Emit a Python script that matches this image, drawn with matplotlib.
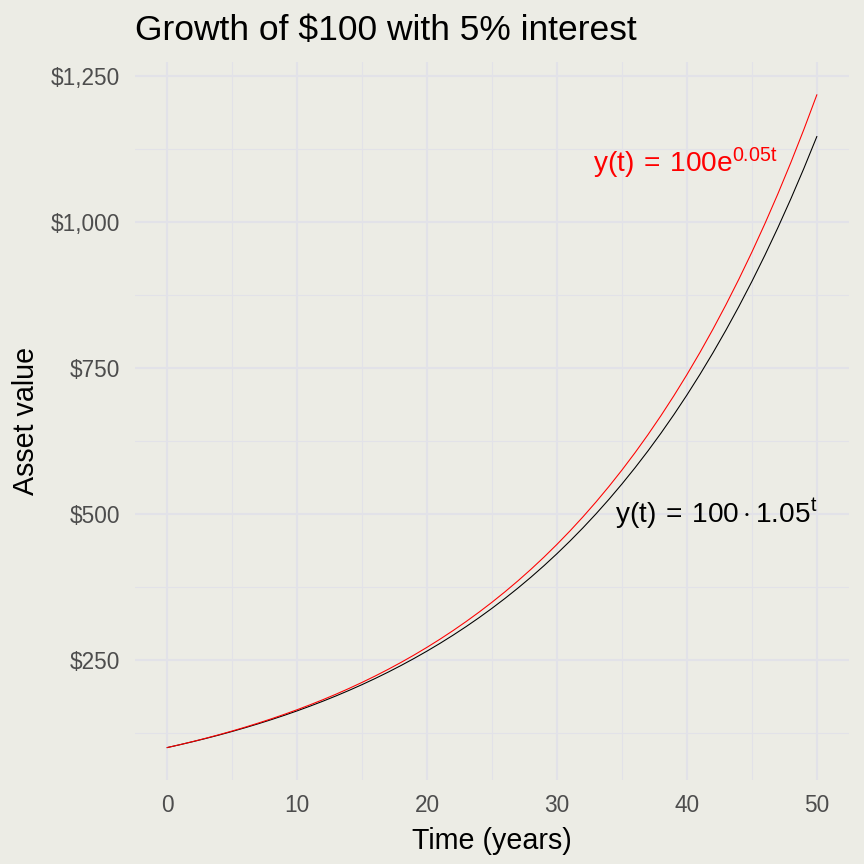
import matplotlib
matplotlib.use("Agg")
import matplotlib.pyplot as plt
from matplotlib.ticker import MultipleLocator, FuncFormatter

plt.rcParams['font.family'] = ['Liberation Sans', 'DejaVu Sans']
plt.rcParams['mathtext.fontset'] = 'custom'
plt.rcParams['mathtext.rm'] = 'Liberation Sans'
plt.rcParams['mathtext.it'] = 'Liberation Sans'
plt.rcParams['mathtext.bf'] = 'Liberation Sans:bold'

years = list(range(0, 51))
discrete_value = [
    100.00, 105.00, 110.25, 115.76, 121.55, 127.63, 134.01, 140.71, 147.75, 155.13,
    162.89, 171.03, 179.59, 188.56, 197.99, 207.89, 218.29, 229.20, 240.66, 252.70,
    265.33, 278.60, 292.53, 307.15, 322.51, 338.64, 355.57, 373.35, 392.01, 411.61,
    432.19, 453.80, 476.49, 500.32, 525.33, 551.60, 579.18, 608.14, 638.55, 670.48,
    704.00, 739.20, 776.16, 814.97, 855.72, 898.50, 943.43, 990.60, 1040.13, 1092.14,
    1146.74]
continuous_value = [
    100.00, 105.13, 110.52, 116.18, 122.14, 128.40, 134.99, 141.91, 149.18, 156.83,
    164.87, 173.33, 182.21, 191.55, 201.38, 211.70, 222.55, 233.96, 245.96, 258.57,
    271.83, 285.77, 300.42, 315.82, 332.01, 349.03, 366.93, 385.74, 405.52, 426.31,
    448.17, 471.15, 495.30, 520.70, 547.39, 575.46, 604.96, 635.98, 668.59, 702.87,
    738.91, 776.79, 816.62, 858.49, 902.50, 948.77, 997.42, 1048.56, 1102.32, 1158.83,
    1218.25]

title = "Growth of $100 with 5% interest"
x_label = "Time (years)"
y_label = "Asset value"
label_continuous = r"$\mathrm{y(t)}\:=\:100\mathrm{e}^{0.05\mathrm{t}}$"
label_discrete = r"$\mathrm{y(t)}\:=\:100\cdot1.05^{\mathrm{t}}$"
label_continuous_pos = (47.0, 1100)
label_discrete_pos = (50.0, 500)

bg = '#ECECE5'
grid_col = '#E2E2E8'

fig = plt.figure(figsize=(9, 9), dpi=96, facecolor=bg)
ax = fig.add_axes([0.156, 0.097, 0.827, 0.831], facecolor=bg)

ax.plot(years, discrete_value, color='black', lw=0.8, zorder=3)
ax.plot(years, continuous_value, color='red', lw=0.8, zorder=4)

ax.text(*label_continuous_pos, label_continuous, color='red', fontsize=21,
        ha='right', va='center', zorder=5)
ax.text(*label_discrete_pos, label_discrete, color='black', fontsize=21,
        ha='right', va='center', zorder=5)

xmin, xmax = min(years), max(years)
ymin = min(discrete_value + continuous_value)
ymax = max(discrete_value + continuous_value)
ax.set_xlim(xmin - 0.05 * (xmax - xmin), xmax + 0.05 * (xmax - xmin))
ax.set_ylim(ymin - 0.05 * (ymax - ymin), ymax + 0.05 * (ymax - ymin))

ax.xaxis.set_major_locator(MultipleLocator(10))
ax.xaxis.set_minor_locator(MultipleLocator(5))
ax.yaxis.set_major_locator(MultipleLocator(250))
ax.yaxis.set_minor_locator(MultipleLocator(125))
ax.yaxis.set_major_formatter(FuncFormatter(lambda v, p: f"${v:,.0f}"))

ax.grid(which='major', color=grid_col, lw=1.6, zorder=0)
ax.grid(which='minor', color=grid_col, lw=0.8, zorder=0)
ax.set_axisbelow(True)
for s in ax.spines.values():
    s.set_visible(False)
ax.tick_params(which='both', length=0)
ax.tick_params(axis='both', labelsize=17, labelcolor='#4D4D4D')
ax.tick_params(axis='x', pad=10)
ax.tick_params(axis='y', pad=11)

ax.set_xlabel(x_label, fontsize=21.5, labelpad=8)
ax.set_ylabel(y_label, fontsize=21.5, labelpad=8)
ax.set_title(title, loc='left', fontsize=26.5, pad=17)

fig.savefig('out.png', dpi=96, facecolor=bg)
